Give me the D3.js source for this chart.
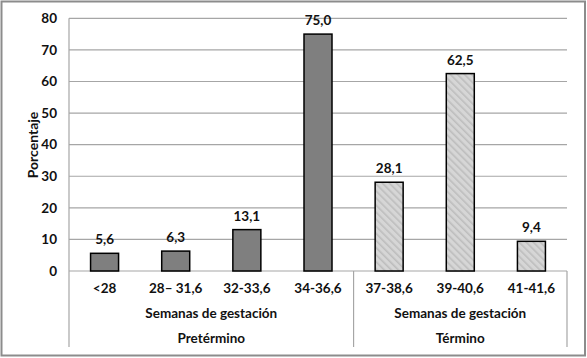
<!DOCTYPE html>
<html><head><meta charset="utf-8">
<script src="https://cdn.jsdelivr.net/npm/d3@7"></script>
<style>body{margin:0;background:#fff}text{font-family:Lato,"Open Sans",sans-serif;font-weight:bold;fill:#111}</style>
</head><body><svg id="c" width="587" height="358"></svg>
<script>
const categories = ["<28","28– 31,6","32-33,6","34-36,6","37-38,6","39-40,6","41-41,6"];
const values = [5.6, 6.3, 13.1, 75.0, 28.1, 62.5, 9.4];
const groups = ["Pretérmino","Pretérmino","Pretérmino","Pretérmino","Término","Término","Término"];
const groupNames = ["Pretérmino","Término"];
const subLabel = "Semanas de gestación";
const yTicks = [0,10,20,30,40,50,60,70,80];
const yTitle = "Porcentaje";

const svg = d3.select("#c");
const L=69, R=567, T=18.3, B=271;
const FS = "13.5px";
const defs = svg.append("defs");
const pat = defs.append("pattern").attr("id","hatch").attr("patternUnits","userSpaceOnUse")
  .attr("width",5).attr("height",5).attr("patternTransform","rotate(-45)");
pat.append("rect").attr("width",5).attr("height",5).attr("fill","#d6d6d6");
pat.append("rect").attr("x",0).attr("width",1.6).attr("height",5).attr("fill","#bdbdbd");

svg.append("rect").attr("x",1.5).attr("y",1.5).attr("width",583.5).attr("height",354)
  .attr("fill","#fff").attr("stroke","#8c8c8c").attr("stroke-width",2);

const x = d3.scaleBand().domain(categories).range([L,R]).paddingInner(0).paddingOuter(0);
const y = d3.scaleLinear().domain([0,80]).range([B,T]);

svg.append("g").selectAll("line").data(yTicks).join("line")
  .attr("x1",L).attr("x2",R).attr("y1",d=>y(d)).attr("y2",d=>y(d))
  .attr("stroke","#a6a6a6").attr("stroke-width",1.2);

const ya = svg.append("g").attr("transform",`translate(${L},0)`)
  .call(d3.axisLeft(y).tickValues(yTicks).tickSize(0).tickPadding(12));
ya.select(".domain").remove();
ya.selectAll("text").style("font-size",FS).style("font-family","Lato,sans-serif").style("font-weight","bold").attr("fill","#111");

const sepX = [L, x(categories[4]), R];
svg.append("g").selectAll("line").data(sepX).join("line")
  .attr("x1",d=>d).attr("x2",d=>d).attr("y1",(d,i)=>i===0?T:B).attr("y2",347)
  .attr("stroke","#a6a6a6").attr("stroke-width",1.2);

const bw = 28;
svg.append("g").selectAll("rect").data(categories).join("rect")
  .attr("x",d=>x(d)+x.bandwidth()/2-bw/2).attr("width",bw)
  .attr("y",(d,i)=>y(values[i])).attr("height",(d,i)=>y(0)-y(values[i]))
  .attr("fill",(d,i)=>groups[i]==="Pretérmino"?"#7f7f7f":"url(#hatch)")
  .attr("stroke","#000").attr("stroke-width",1.5);

svg.append("g").selectAll("text").data(categories).join("text")
  .attr("x",d=>x(d)+x.bandwidth()/2).attr("y",(d,i)=>y(values[i])-9)
  .attr("text-anchor","middle").style("font-size",FS)
  .text((d,i)=>d3.format(".1f")(values[i]).replace(".",","));

svg.append("g").selectAll("text").data(categories).join("text")
  .attr("x",d=>x(d)+x.bandwidth()/2).attr("y",293)
  .attr("text-anchor","middle").style("font-size",FS).text(d=>d);

groupNames.forEach(g=>{
  const idx = categories.map((c,i)=>i).filter(i=>groups[i]===g);
  const cx = (x(categories[idx[0]]) + x(categories[idx[idx.length-1]]) + x.bandwidth())/2;
  svg.append("text").attr("x",cx).attr("y",318).attr("text-anchor","middle").style("font-size",FS).text(subLabel);
  svg.append("text").attr("x",cx).attr("y",343).attr("text-anchor","middle").style("font-size",FS).text(g);
});

svg.append("text").attr("transform","translate(37.5,145) rotate(-90)").attr("text-anchor","middle")
  .style("font-size","14px").text(yTitle);
</script></body></html>
